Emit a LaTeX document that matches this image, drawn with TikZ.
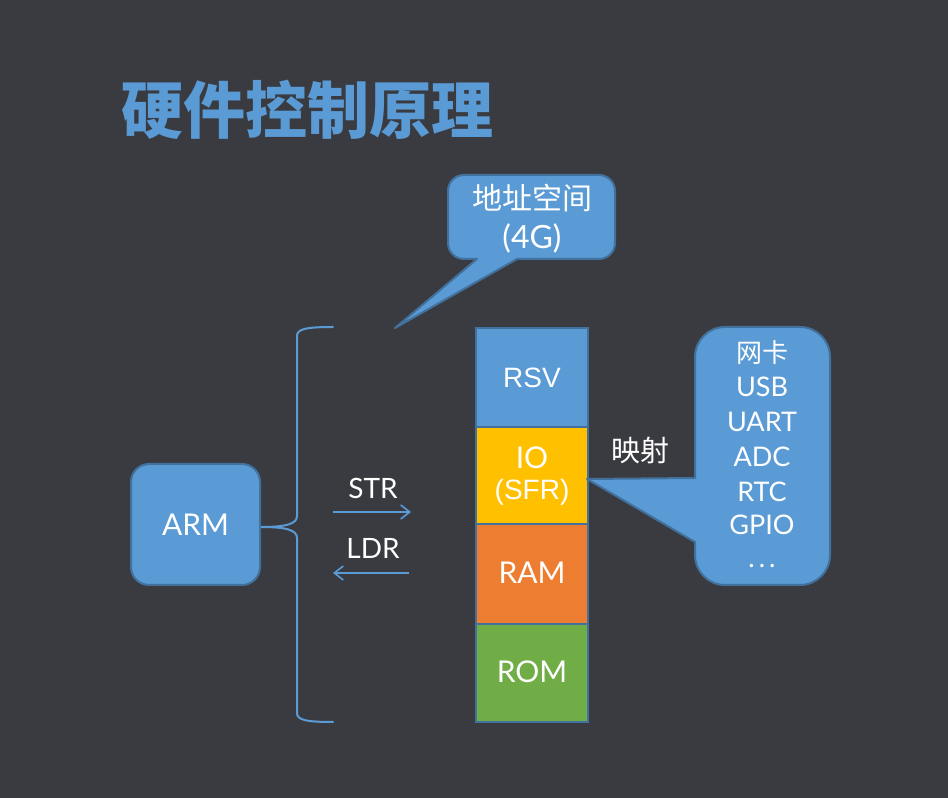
\documentclass[tikz,border=0pt]{standalone}
\usepackage{fontspec}
\setmainfont{Lato}
\newfontfamily\cjk{Noto Sans CJK SC}
\newfontfamily\arialf{Liberation Sans}
\usetikzlibrary{arrows.meta}
\definecolor{bg}{HTML}{3A3B40}
\definecolor{blu}{HTML}{5B9BD5}
\definecolor{bdr}{HTML}{41719C}
\definecolor{yel}{HTML}{FFC000}
\definecolor{org}{HTML}{ED7D31}
\definecolor{grn}{HTML}{70AD47}
\tikzset{
  wt/.style={text=white, inner sep=0pt, font=\fontsize{30}{34}\selectfont},
  membox/.style={draw=bdr, line width=2pt, minimum width=112pt, inner sep=0pt},
  callout/.style={fill=blu, draw=bdr, line width=2pt, line join=round},
  link/.style={draw=blu, line width=2pt},
  rw/.style={draw=blu, line width=1.6pt, -{Straight Barb[length=9pt,width=14pt]}}
}
\begin{document}
\begin{tikzpicture}[x=1pt,y=1pt]
\fill[bg] (0,0) rectangle (948,798);
\useasboundingbox (0,0) rectangle (948,798);

% title
\node[text=blu, inner sep=0pt, font=\cjk\bfseries\fontsize{62}{64}\selectfont] (title) at (307,688) {硬件控制原理};

% ARM box
\node[fill=blu, draw=bdr, line width=2pt, rounded corners=18pt, minimum width=129pt, minimum height=121pt, inner sep=0pt] (arm) at (195.5,273.5) {};
\node[wt] (armt) at (195.5,273.5) {ARM};

% memory column
\node[membox, fill=blu, minimum height=99pt] (rsv) at (532,420.5) {};
\node[membox, fill=yel, minimum height=97pt] (io) at (532,322.5) {};
\node[membox, fill=org, minimum height=100pt] (ram) at (532,224) {};
\node[membox, fill=grn, minimum height=98pt] (rom) at (532,125) {};
\node[wt, font=\arialf\fontsize{28}{32}\selectfont] (rsvt) at (532,420) {RSV};
\node[wt] (iot) at (532,340) {IO};
\node[wt, font=\arialf\fontsize{28}{32}\selectfont] (sfrt) at (532,306) {(SFR)};
\node[wt] (ramt) at (532,225) {RAM};
\node[wt] (romt) at (532,126) {ROM};

% brace
\coordinate (btop) at (333,471);
\coordinate (bbot) at (333,76);
\draw[link, line cap=round] (btop) .. controls (306,471) and (297,469) .. (297,462) -- (297,282)
  .. controls (297,274) and (286,271) .. (arm.east |- 0,271)
  .. controls (286,271) and (297,268) .. (297,260) -- (297,85)
  .. controls (297,78) and (306,76) .. (bbot);

% STR / LDR
\coordinate (s1) at (333,286);
\coordinate (s2) at (411,286);
\coordinate (l1) at (409,225);
\coordinate (l2) at (333,225);
\draw[rw] (s1) -- (s2);
\draw[rw] (l1) -- (l2);
\node[wt, font=\fontsize{28}{32}\selectfont] (str) at (373,310) {STR};
\node[wt, font=\fontsize{28}{32}\selectfont] (ldr) at (373,250) {LDR};

% top callout
\coordinate (tip1) at (395,470);
\draw[callout] (tip1) -- (517,539) -- (599,539) arc[start angle=-90,end angle=0,radius=16]
  -- (615,607) arc[start angle=0,end angle=90,radius=16]
  -- (464,623) arc[start angle=90,end angle=180,radius=16]
  -- (448,555) arc[start angle=180,end angle=270,radius=16]
  -- (477,539) -- cycle;
\node[wt, font=\cjk\fontsize{30}{32}\selectfont] (addr) at (532,600) {地址空间};
\node[wt, font=\fontsize{32}{34}\selectfont] (g4) at (532,560) {(4G)};

% right callout
\coordinate (tip2) at (587,319);
\draw[callout] (tip2) -- (695,320) -- (695,441) arc[start angle=180,end angle=90,radius=30]
  -- (800,471) arc[start angle=90,end angle=0,radius=30]
  -- (830,243) arc[start angle=0,end angle=-90,radius=30]
  -- (725,213) arc[start angle=270,end angle=180,radius=30]
  -- (695,256) -- cycle;
\node[wt, font=\cjk\fontsize{26}{28}\selectfont] (nic) at (762,445) {网卡};
\node[wt, font=\fontsize{27}{30}\selectfont] (usb) at (762,411) {USB};
\node[wt, font=\fontsize{27}{30}\selectfont] (uart) at (762,376) {UART};
\node[wt, font=\fontsize{27}{30}\selectfont] (adc) at (762,341) {ADC};
\node[wt, font=\fontsize{27}{30}\selectfont] (rtc) at (762,306) {RTC};
\node[wt, font=\fontsize{27}{30}\selectfont] (gpio) at (762,273) {GPIO};
\node[wt, font=\fontsize{27}{30}\selectfont] (dots) at (762,232) {.\kern4pt.\kern4pt.};

% mapping label
\node[wt, font=\cjk\fontsize{29}{31}\selectfont] (map) at (640,347) {映射};
\end{tikzpicture}
\end{document}
